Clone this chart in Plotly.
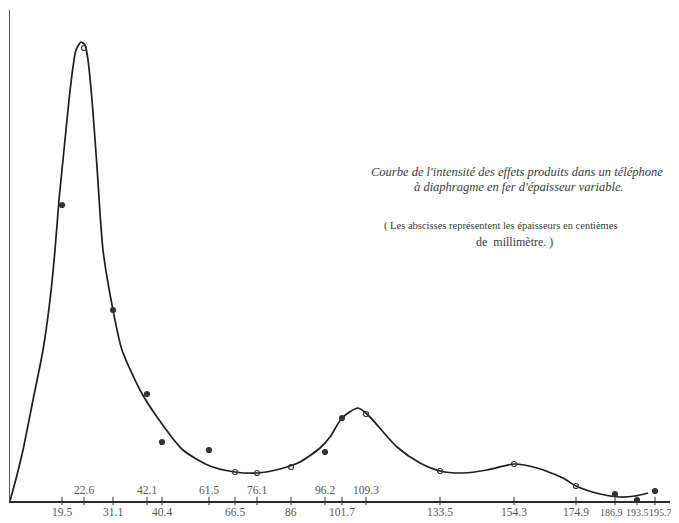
import plotly.graph_objects as go

# Thickness labels (hundredths of mm) and their positions along the axis (axis units)
tick_labels = ["19.5", "22.6", "31.1", "42.1", "40.4", "61.5", "66.5", "76.1", "86",
               "96.2", "101.7", "109.3", "133.5", "154.3", "174.9", "186.9", "193.5", "195.7"]
tick_pos = [52, 74, 103, 137, 152, 199, 225, 247, 281, 315, 332, 356, 430, 504, 566, 605, 627, 645]
label_above = [False, True, False, True, False, True, False, True, False,
               True, False, True, False, False, False, False, False, False]

# Measured intensity at each thickness
intensity = [59.2, 90.6, 38.2, 21.4, 11.8, 10.2, 5.8, 5.6, 6.8,
             9.8, 16.6, 17.4, 6.0, 7.4, 3.0, 1.4, 0.2, 2.0]
on_curve = [False, True, False, False, False, False, True, True, True,
            False, False, True, True, True, True, False, False, False]

# Hand-drawn smoothed curve (axis units)
curve_x = [0, 7, 13, 23, 33, 40, 45, 49, 54, 59, 63, 66, 71, 75, 78, 82, 87, 93,
           103, 112, 130, 147, 173, 200, 225, 247, 270, 290, 310, 320, 332, 348,
           358, 387, 410, 430, 453, 477, 504, 527, 553, 566, 590, 610, 625, 638]
curve_y = [0, 5.2, 10.2, 20.2, 30.2, 40.2, 50.2, 60.2, 70.2, 80.2, 86.8, 90.2, 91.8,
           91.2, 88.2, 80.2, 66.8, 50.2, 38.2, 30.2, 22.2, 16.8, 10.2, 7.0, 5.8,
           5.6, 6.4, 7.8, 10.6, 12.8, 16.6, 18.6, 17.2, 10.8, 7.6, 6.0, 5.6,
           6.2, 7.4, 6.6, 4.6, 3.0, 1.4, 0.8, 1.0, 1.6]

fig = go.Figure()

fig.add_trace(go.Scatter(
    x=curve_x, y=curve_y, mode="lines",
    line=dict(color="#1e1e1e", width=1.7, shape="spline", smoothing=0.7),
    hoverinfo="skip", showlegend=False))

fig.add_trace(go.Scatter(
    x=tick_pos, y=intensity, mode="markers",
    marker=dict(size=5, color="#333333",
                symbol=["circle-open" if c else "circle" for c in on_curve],
                line=dict(color="#333333", width=1.2)),
    showlegend=False, cliponaxis=False))

# tick marks crossing the axis
fig.add_trace(go.Scatter(
    x=tick_pos, y=[0] * len(tick_pos), mode="markers",
    marker=dict(symbol="line-ns", size=6, line=dict(color="#333333", width=1)),
    hoverinfo="skip", showlegend=False, cliponaxis=False))

label_nudge = {"186.9": -4, "193.5": 0, "195.7": 5}
small_labels = {"186.9", "193.5", "195.7"}
annotations = []
for p, lab, up in zip(tick_pos, tick_labels, label_above):
    annotations.append(dict(
        x=p, y=0, xref="x", yref="y", text=lab, showarrow=False,
        yshift=11 if up else -11, xshift=label_nudge.get(lab, 0),
        font=dict(family="Liberation Serif", size=10 if lab in small_labels else 11.5,
                  color="#555555")))

title_lines = [
    ("<i>Courbe de l'intensité des effets produits dans un téléphone</i>", 517, 172, 12.5),
    ("<i>à diaphragme en fer d'épaisseur variable.</i>", 519, 187, 12.5),
    ("( Les abscisses représentent les épaisseurs en centièmes", 501, 226, 10.5),
    ("de\u00a0\u00a0millimètre.\u00a0)", 514, 242, 12),
]
for txt, px, py, fs in title_lines:
    annotations.append(dict(
        x=(px - 10) / 660, y=(501 - py) / 491, xref="paper", yref="paper",
        text=txt, showarrow=False, xanchor="center", yanchor="middle",
        font=dict(family="Liberation Serif", size=fs, color="#3a3a3a")))

fig.update_layout(
    width=679, height=523,
    margin=dict(l=2, r=17, t=2, b=30),
    paper_bgcolor="white", plot_bgcolor="white",
    annotations=annotations,
    xaxis=dict(range=[0, 660], showgrid=False, zeroline=False, showticklabels=False,
               ticks="", showline=True, linecolor="#2a2a2a", linewidth=1.5),
    yaxis=dict(range=[0, 98.2], showgrid=False, zeroline=False, showticklabels=False,
               ticks="", showline=True, linecolor="#555555", linewidth=1),
)

fig.write_html("out.html")
